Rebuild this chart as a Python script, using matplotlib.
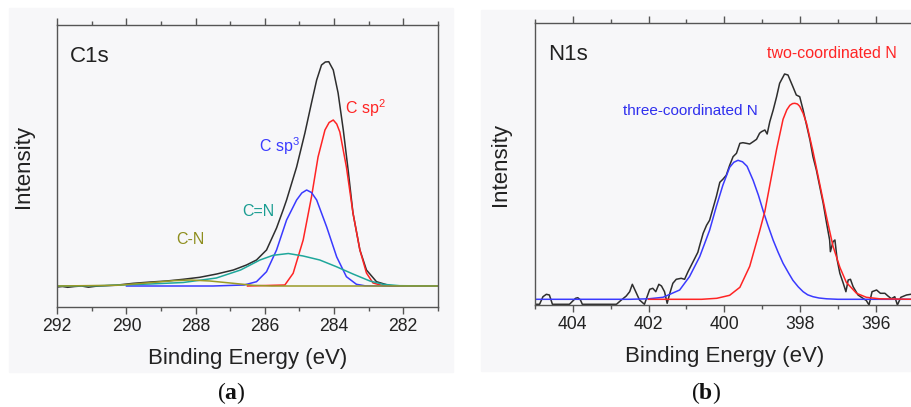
import matplotlib
matplotlib.use("Agg")
import matplotlib.pyplot as plt
from matplotlib.patches import Rectangle
from matplotlib.ticker import MultipleLocator

plt.rcParams['font.family'] = ['Liberation Sans', 'DejaVu Sans']
plt.rcParams['mathtext.fontset'] = 'custom'
plt.rcParams['mathtext.rm'] = 'Liberation Sans'
plt.rcParams['mathtext.it'] = 'Liberation Sans:italic'
plt.rcParams['mathtext.bf'] = 'Liberation Serif:bold'

# ---- (a) C1s : binding energy (eV) / intensity (a.u.)
c1s_be = [292.0, 291.85, 291.7, 291.5, 291.3, 291.1, 290.9, 290.77, 290.3, 289.8,
          289.3, 288.84, 288.36, 287.88, 287.39, 286.91, 286.53, 286.24, 285.95,
          285.66, 285.47, 285.37, 285.08, 284.84, 284.65, 284.50, 284.36, 284.25,
          284.15, 284.02, 283.88, 283.73, 283.59, 283.45, 283.25, 283.06, 282.77,
          282.38, 282.0]
c1s_int = [-1.0, -0.5, -1.3, -0.5, 0.0, -1.2, -0.3, 0.0, 0.8, 2.7,
           4.0, 5.0, 6.7, 8.7, 12.0, 16.0, 21.0, 26.0, 36.0,
           58.0, 76.0, 86.0, 119.0, 153.0, 183.0, 206.0, 221.0, 224.0,
           224.3, 216.0, 193.0, 156.0, 116.0, 73.0, 36.0, 16.0, 4.3,
           0.3, 0.0]

sp2_be = [286.5, 285.42, 285.18, 284.89, 284.65, 284.46, 284.26, 284.14, 284.02,
          283.92, 283.83, 283.64, 283.45, 283.25, 283.06, 282.87, 282.58, 282.3, 281.0]
sp2_int = [0.0, 1.0, 12.7, 46.0, 89.0, 129.0, 156.0, 163.5, 166.0,
           162.0, 154.0, 119.0, 73.0, 36.0, 13.0, 3.0, 0.3, 0.0, 0.0]

sp3_be = [290.0, 287.5, 286.6, 286.24, 285.95, 285.66, 285.37, 285.08, 284.93,
          284.79, 284.65, 284.50, 284.21, 283.92, 283.64, 283.35, 283.1, 282.5, 281.0]
sp3_int = [0.0, 0.0, 1.0, 4.3, 14.3, 36.0, 66.0, 86.0, 93.0,
           96.0, 93.5, 86.0, 59.0, 29.0, 9.3, 1.7, 0.2, 0.0, 0.0]

cn2_be = [292.0, 290.77, 289.32, 288.36, 287.4, 286.7, 286.14, 285.76, 285.32,
          284.89, 284.41, 283.93, 283.45, 282.96, 282.58, 282.1, 281.0]
cn2_int = [0.0, 0.3, 2.0, 3.5, 8.0, 16.0, 26.0, 30.7, 32.5,
           30.0, 26.0, 19.3, 12.0, 5.0, 1.7, 0.3, 0.0]

cn1_be = [292.0, 290.28, 289.32, 288.65, 288.16, 287.59, 286.91, 286.34, 285.8, 281.0]
cn1_int = [0.0, 0.7, 3.3, 5.3, 6.0, 5.0, 2.7, 0.7, 0.0, 0.0]

# ---- (b) N1s
n1s_be = [405.0, 404.88, 404.79, 404.70, 404.62, 404.54, 404.09, 403.93, 403.87,
          403.80, 403.75, 402.85, 402.72, 402.59, 402.50, 402.43, 402.34, 402.24,
          402.11, 402.04, 401.97, 401.89, 401.81, 401.73, 401.66, 401.58, 401.51,
          401.44, 401.36, 401.27, 401.14, 401.05, 400.96, 400.87, 400.78, 400.70,
          400.65, 400.56, 400.47, 400.39, 400.30, 400.21, 400.12, 400.04, 399.95,
          399.86, 399.77, 399.68, 399.59, 399.51, 399.42, 399.33, 399.24, 399.15,
          399.07, 399.02, 398.93, 398.87, 398.80, 398.71, 398.62, 398.54, 398.41,
          398.32, 398.19, 398.10, 398.01, 397.92, 397.83, 397.74, 397.66, 397.57,
          397.48, 397.39, 397.30, 397.22, 397.20, 397.13, 397.08, 397.02, 396.95,
          396.86, 396.79, 396.73, 396.67, 396.60, 396.47, 396.25, 396.18, 396.10,
          395.98, 395.88, 395.76, 395.68, 395.59, 395.50, 395.43, 395.34, 395.19,
          395.08, 395.0]
n1s_int = [-5.0, -5.0, 2.6, 5.0, 4.3, -5.0, -5.0, 1.0, 1.6,
           -0.7, -5.0, -5.0, -0.7, 3.3, 7.6, 15.0, 7.6, -0.7,
           -5.0, 2.6, 10.0, 11.0, 7.6, 15.0, 13.3, 7.6, -4.0,
           6.0, 16.0, 20.0, 21.0, 20.0, 27.6, 34.3, 41.0, 47.0,
           54.0, 66.0, 74.0, 79.0, 91.0, 103.0, 117.0, 120.0, 124.0,
           134.0, 142.6, 146.0, 156.0, 156.6, 156.0, 155.3, 157.6, 160.0,
           166.0, 167.6, 169.3, 165.3, 177.6, 189.3, 202.6, 216.0, 225.3,
           224.3, 212.6, 204.3, 202.6, 189.3, 174.3, 159.3, 142.6, 129.3,
           112.6, 96.0, 76.0, 59.3, 47.6, 57.6, 59.3, 39.3, 26.0,
           16.0, 7.6, 19.3, 20.0, 12.6, 4.3, -1.3, -5.7, 7.6,
           9.3, 6.0, 6.0, 3.3, 0.6, 2.6, -5.7, 2.0, 4.3,
           5.0, 5.0]

two_be = [402.0, 400.6, 400.2, 399.86, 399.59, 399.33, 399.07, 398.93, 398.8,
          398.62, 398.45, 398.35, 398.27, 398.2, 398.14, 398.07, 398.01, 397.92,
          397.83, 397.66, 397.48, 397.30, 397.13, 396.95, 396.78, 396.51, 396.25,
          395.9, 395.0]
two_int = [0.0, 0.0, 1.0, 4.0, 12.0, 33.0, 68.0, 88.0, 114.0,
           150.0, 180.0, 189.5, 194.0, 195.7, 196.0, 195.3, 193.0, 186.0,
           176.0, 148.0, 115.0, 82.0, 53.0, 32.0, 17.0, 6.0, 2.0,
           0.5, 0.0]

three_be = [405.0, 402.5, 402.0, 401.62, 401.18, 400.92, 400.65, 400.39, 400.21,
            400.04, 399.86, 399.75, 399.64, 399.52, 399.4, 399.24, 399.1, 398.98,
            398.85, 398.71, 398.58, 398.45, 398.3, 398.19, 398.05, 397.92, 397.8,
            397.66, 397.5, 397.3, 397.0, 395.0]
three_int = [0.0, 0.0, 0.5, 2.0, 9.3, 22.7, 42.7, 69.0, 93.0,
             114.0, 132.0, 137.0, 139.0, 137.5, 133.0, 119.0, 104.0, 89.0,
             74.0, 59.0, 47.0, 36.0, 26.0, 19.0, 12.5, 7.6, 4.5,
             2.6, 1.3, 0.5, 0.0, 0.0]

W, H = 911, 407
fig = plt.figure(figsize=(W / 100, H / 100), dpi=100)


def fx(px):
    return px / W


def fy(py):
    return 1 - py / H


panel_bg = '#f7f7f9'
fig.patches.append(Rectangle((fx(9), fy(372)), fx(444), 364 / H,
                             transform=fig.transFigure, color=panel_bg, zorder=-5))
fig.patches.append(Rectangle((fx(481), fy(371)), fx(430), 361 / H,
                             transform=fig.transFigure, color=panel_bg, zorder=-5))

ax1 = fig.add_axes([fx(57.3), fy(307), fx(437.7 - 57.3), (307 - 25) / H])
ax2 = fig.add_axes([fx(535), fy(305), fx(913.7 - 535), (305 - 23.3) / H])

c_black = '#2e2e2e'
c_red = '#ff2424'
c_blue = '#3a3aff'
c_teal = '#1fa79b'
c_olive = '#9a9a28'

ax1.plot(c1s_be, c1s_int, color=c_black, lw=1.1)
ax1.plot(sp2_be, sp2_int, color=c_red, lw=1.1)
ax1.plot(sp3_be, sp3_int, color=c_blue, lw=1.1)
ax1.plot(cn2_be, cn2_int, color=c_teal, lw=1.1)
ax1.plot(cn1_be, cn1_int, color=c_olive, lw=1.1)
ax1.set_xlim(292, 281)
ax1.set_ylim(-21, 261)

ax2.plot(n1s_be, n1s_int, color=c_black, lw=1.1)
ax2.plot(three_be, three_int, color=c_blue, lw=1.1)
ax2.plot(two_be, two_int, color=c_red, lw=1.1)
ax2.set_xlim(405, 395)
ax2.set_ylim(-5.7, 276)

for ax in (ax1, ax2):
    ax.set_facecolor('none')
    ax.xaxis.set_major_locator(MultipleLocator(2))
    ax.xaxis.set_minor_locator(MultipleLocator(1))
    ax.tick_params(axis='x', which='both', direction='out', top=True,
                   color='#555555', labelsize=12.7, pad=3, labelcolor='#222222')
    ax.tick_params(axis='x', which='major', length=5, width=1)
    ax.tick_params(axis='x', which='minor', length=3, width=1)
    ax.tick_params(axis='y', left=False, labelleft=False)
    for s in ax.spines.values():
        s.set_color('#555555')
        s.set_linewidth(1.0)
    ax.set_xlabel('Binding Energy (eV)', fontsize=16, color='#222222', labelpad=9)
    ax.set_ylabel('Intensity', fontsize=16, color='#222222', labelpad=17)

# panel (a) labels
fig.text(fx(70), fy(56), 'C1s', fontsize=16, color='#222222', va='center')
fig.text(fx(365), fy(108), 'C sp$^2$', fontsize=11.5, color=c_red, ha='center', va='center')
fig.text(fx(279), fy(146), 'C sp$^3$', fontsize=11.5, color=c_blue, ha='center', va='center')
fig.text(fx(258), fy(211), 'C=N', fontsize=11.5, color='#1a9d92', ha='center', va='center')
fig.text(fx(190), fy(239), 'C-N', fontsize=11.5, color='#8e8e1e', ha='center', va='center')

# panel (b) labels
fig.text(fx(548), fy(55), 'N1s', fontsize=16, color='#222222', va='center')
fig.text(fx(832), fy(53), 'two-coordinated N', fontsize=11.5, color=c_red,
         ha='center', va='center')
fig.text(fx(690), fy(111), 'three-coordinated N', fontsize=11, color='#2f2fee',
         ha='center', va='center')

fig.text(fx(231), fy(393), '(' + r'$\mathbf{a}$' + ')', fontsize=17,
         family='Liberation Serif', ha='center', va='center', color='#111111')
fig.text(fx(706), fy(393), '(' + r'$\mathbf{b}$' + ')', fontsize=17,
         family='Liberation Serif', ha='center', va='center', color='#111111')

fig.savefig('out.png', dpi=100, facecolor='white')
